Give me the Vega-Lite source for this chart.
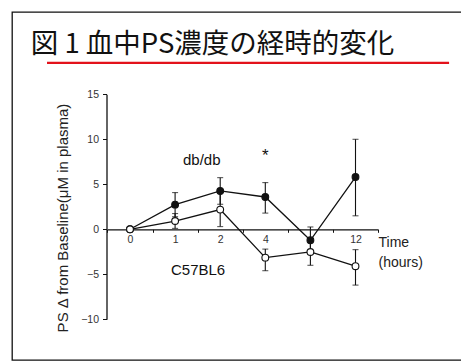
{
  "$schema": "https://vega.github.io/schema/vega-lite/v6.json",
  "width": 452,
  "height": 348,
  "autosize": {"type": "none"},
  "padding": {"left": 12, "top": 12, "right": 0, "bottom": 1},
  "background": "white",
  "datasets": {
    "ps": [
      {"hours": 0, "group": "db/db", "mean": 0, "lo": null, "hi": null},
      {"hours": 1, "group": "db/db", "mean": 2.74, "lo": 1.4, "hi": 4.08},
      {"hours": 2, "group": "db/db", "mean": 4.26, "lo": 2.78, "hi": 5.74},
      {"hours": 4, "group": "db/db", "mean": 3.59, "lo": 1.8, "hi": 5.19},
      {"hours": 8, "group": "db/db", "mean": -1.22, "lo": -2.7, "hi": 0.26},
      {"hours": 12, "group": "db/db", "mean": 5.81, "lo": 1.5, "hi": 10.0},
      {"hours": 0, "group": "C57BL6", "mean": 0, "lo": null, "hi": null},
      {"hours": 1, "group": "C57BL6", "mean": 0.92, "lo": 0.1, "hi": 1.75},
      {"hours": 2, "group": "C57BL6", "mean": 2.19, "lo": 0.3, "hi": 4.1},
      {"hours": 4, "group": "C57BL6", "mean": -3.15, "lo": -4.6, "hi": -2.2},
      {"hours": 8, "group": "C57BL6", "mean": -2.52, "lo": -4.0, "hi": -1.0},
      {"hours": 12, "group": "C57BL6", "mean": -4.1, "lo": -6.2, "hi": -2.26}
    ],
    "one": [{"k": 1}]
  },
  "layer": [
    {
      "data": {"name": "ps"},
      "mark": {"type": "line", "color": "#111111", "strokeWidth": 1.3},
      "encoding": {
        "detail": {"field": "group"},
        "x": {
          "field": "hours",
          "type": "quantitative",
          "scale": {
            "domain": [-0.5, 0, 1, 2, 4, 8, 12, 14],
            "range": [95.45, 118, 163.1, 208.2, 253.3, 298.4, 343.5, 366.05],
            "nice": false,
            "zero": false
          },
          "axis": {
            "orient": "bottom",
            "offset": -130.7,
            "values": [-0.5, 0.5, 1.5, 3, 6, 10, 14],
            "labelExpr": "datum.value == 0.5 ? '0' : datum.value == 1.5 ? '1' : datum.value == 3 ? '2' : datum.value == 6 ? '4' : datum.value == 14 ? '12' : ''",
            "labelOffset": -22.55,
            "labelFlush": false,
            "labelOverlap": false,
            "labelBound": false,
            "labelFontSize": 10.5,
            "labelColor": "#333333",
            "labelPadding": 2,
            "tickSize": 3,
            "tickColor": "#111111",
            "domainColor": "#111111",
            "domainWidth": 1.3,
            "grid": false,
            "title": ["Time", "(hours)"],
            "titleX": 366,
            "titleY": 6,
            "titleAlign": "left",
            "titleBaseline": "top",
            "titleFontSize": 14,
            "titleFontWeight": "normal",
            "titleColor": "#222222",
            "titleLineHeight": 20
          }
        },
        "y": {
          "field": "mean",
          "type": "quantitative",
          "scale": {"domain": [-10, 15], "range": [307.3, 82.3], "nice": false, "zero": false},
          "axis": {
            "orient": "left",
            "offset": -94.5,
            "values": [-10, -5, 0, 5, 10, 15],
            "grid": false,
            "labelFontSize": 10.5,
            "labelColor": "#333333",
            "labelPadding": 4,
            "tickSize": 4,
            "tickColor": "#111111",
            "domainColor": "#111111",
            "domainWidth": 1.3,
            "title": "PS Δ from Baseline(μM in plasma)",
            "titleAngle": -90,
            "titleX": -44.5,
            "titleY": 205.5,
            "titleAlign": "center",
            "titleBaseline": "middle",
            "titleFontSize": 15,
            "titleFontWeight": "normal",
            "titleColor": "#222222"
          }
        }
      }
    },
    {
      "data": {"name": "ps"},
      "mark": {"type": "rule", "color": "#111111", "strokeWidth": 1.1},
      "encoding": {
        "x": {"field": "hours", "type": "quantitative"},
        "y": {"field": "lo", "type": "quantitative"},
        "y2": {"field": "hi"}
      }
    },
    {
      "data": {"name": "ps"},
      "mark": {"type": "tick", "orient": "horizontal", "color": "#111111", "size": 6, "thickness": 1.1},
      "encoding": {
        "x": {"field": "hours", "type": "quantitative"},
        "y": {"field": "lo", "type": "quantitative"}
      }
    },
    {
      "data": {"name": "ps"},
      "mark": {"type": "tick", "orient": "horizontal", "color": "#111111", "size": 6, "thickness": 1.1},
      "encoding": {
        "x": {"field": "hours", "type": "quantitative"},
        "y": {"field": "hi", "type": "quantitative"}
      }
    },
    {
      "data": {"name": "ps"},
      "mark": {"type": "point", "shape": "circle", "filled": true, "size": 46, "stroke": "#111111", "strokeWidth": 1.1, "opacity": 1},
      "encoding": {
        "x": {"field": "hours", "type": "quantitative"},
        "y": {"field": "mean", "type": "quantitative"},
        "fill": {
          "field": "group",
          "type": "nominal",
          "scale": {"domain": ["db/db", "C57BL6"], "range": ["#111111", "#ffffff"]},
          "legend": null
        }
      }
    },
    {
      "data": {"name": "one"},
      "mark": {"type": "rule", "color": "#e3121b", "strokeWidth": 2.2, "clip": false},
      "encoding": {
        "x": {"datum": -1.84, "type": "quantitative"},
        "x2": {"datum": 20.3},
        "y": {"datum": 18.5, "type": "quantitative"}
      }
    },
    {
      "data": {"name": "one"},
      "mark": {"type": "text", "text": "図 1 血中PS濃度の経時的変化", "font": "Noto Sans CJK JP", "fontSize": 27.5, "align": "left", "baseline": "alphabetic", "color": "#111111", "clip": false},
      "encoding": {"x": {"datum": -2.2, "type": "quantitative"}, "y": {"datum": 19.55, "type": "quantitative"}}
    },
    {
      "data": {"name": "one"},
      "mark": {"type": "text", "text": "db/db", "fontSize": 15, "align": "center", "baseline": "middle", "color": "#111111", "clip": false},
      "encoding": {"x": {"datum": 1.59, "type": "quantitative"}, "y": {"datum": 7.7, "type": "quantitative"}}
    },
    {
      "data": {"name": "one"},
      "mark": {"type": "text", "text": "C57BL6", "fontSize": 15, "align": "center", "baseline": "middle", "color": "#111111", "clip": false},
      "encoding": {"x": {"datum": 1.51, "type": "quantitative"}, "y": {"datum": -4.52, "type": "quantitative"}}
    },
    {
      "data": {"name": "one"},
      "mark": {"type": "text", "text": "*", "fontSize": 17, "align": "center", "baseline": "alphabetic", "color": "#111111", "clip": false},
      "encoding": {"x": {"datum": 4, "type": "quantitative"}, "y": {"datum": 7.6, "type": "quantitative"}}
    }
  ],
  "config": {
    "font": "Liberation Sans",
    "view": {"stroke": "#111111", "strokeWidth": 1.3}
  }
}
